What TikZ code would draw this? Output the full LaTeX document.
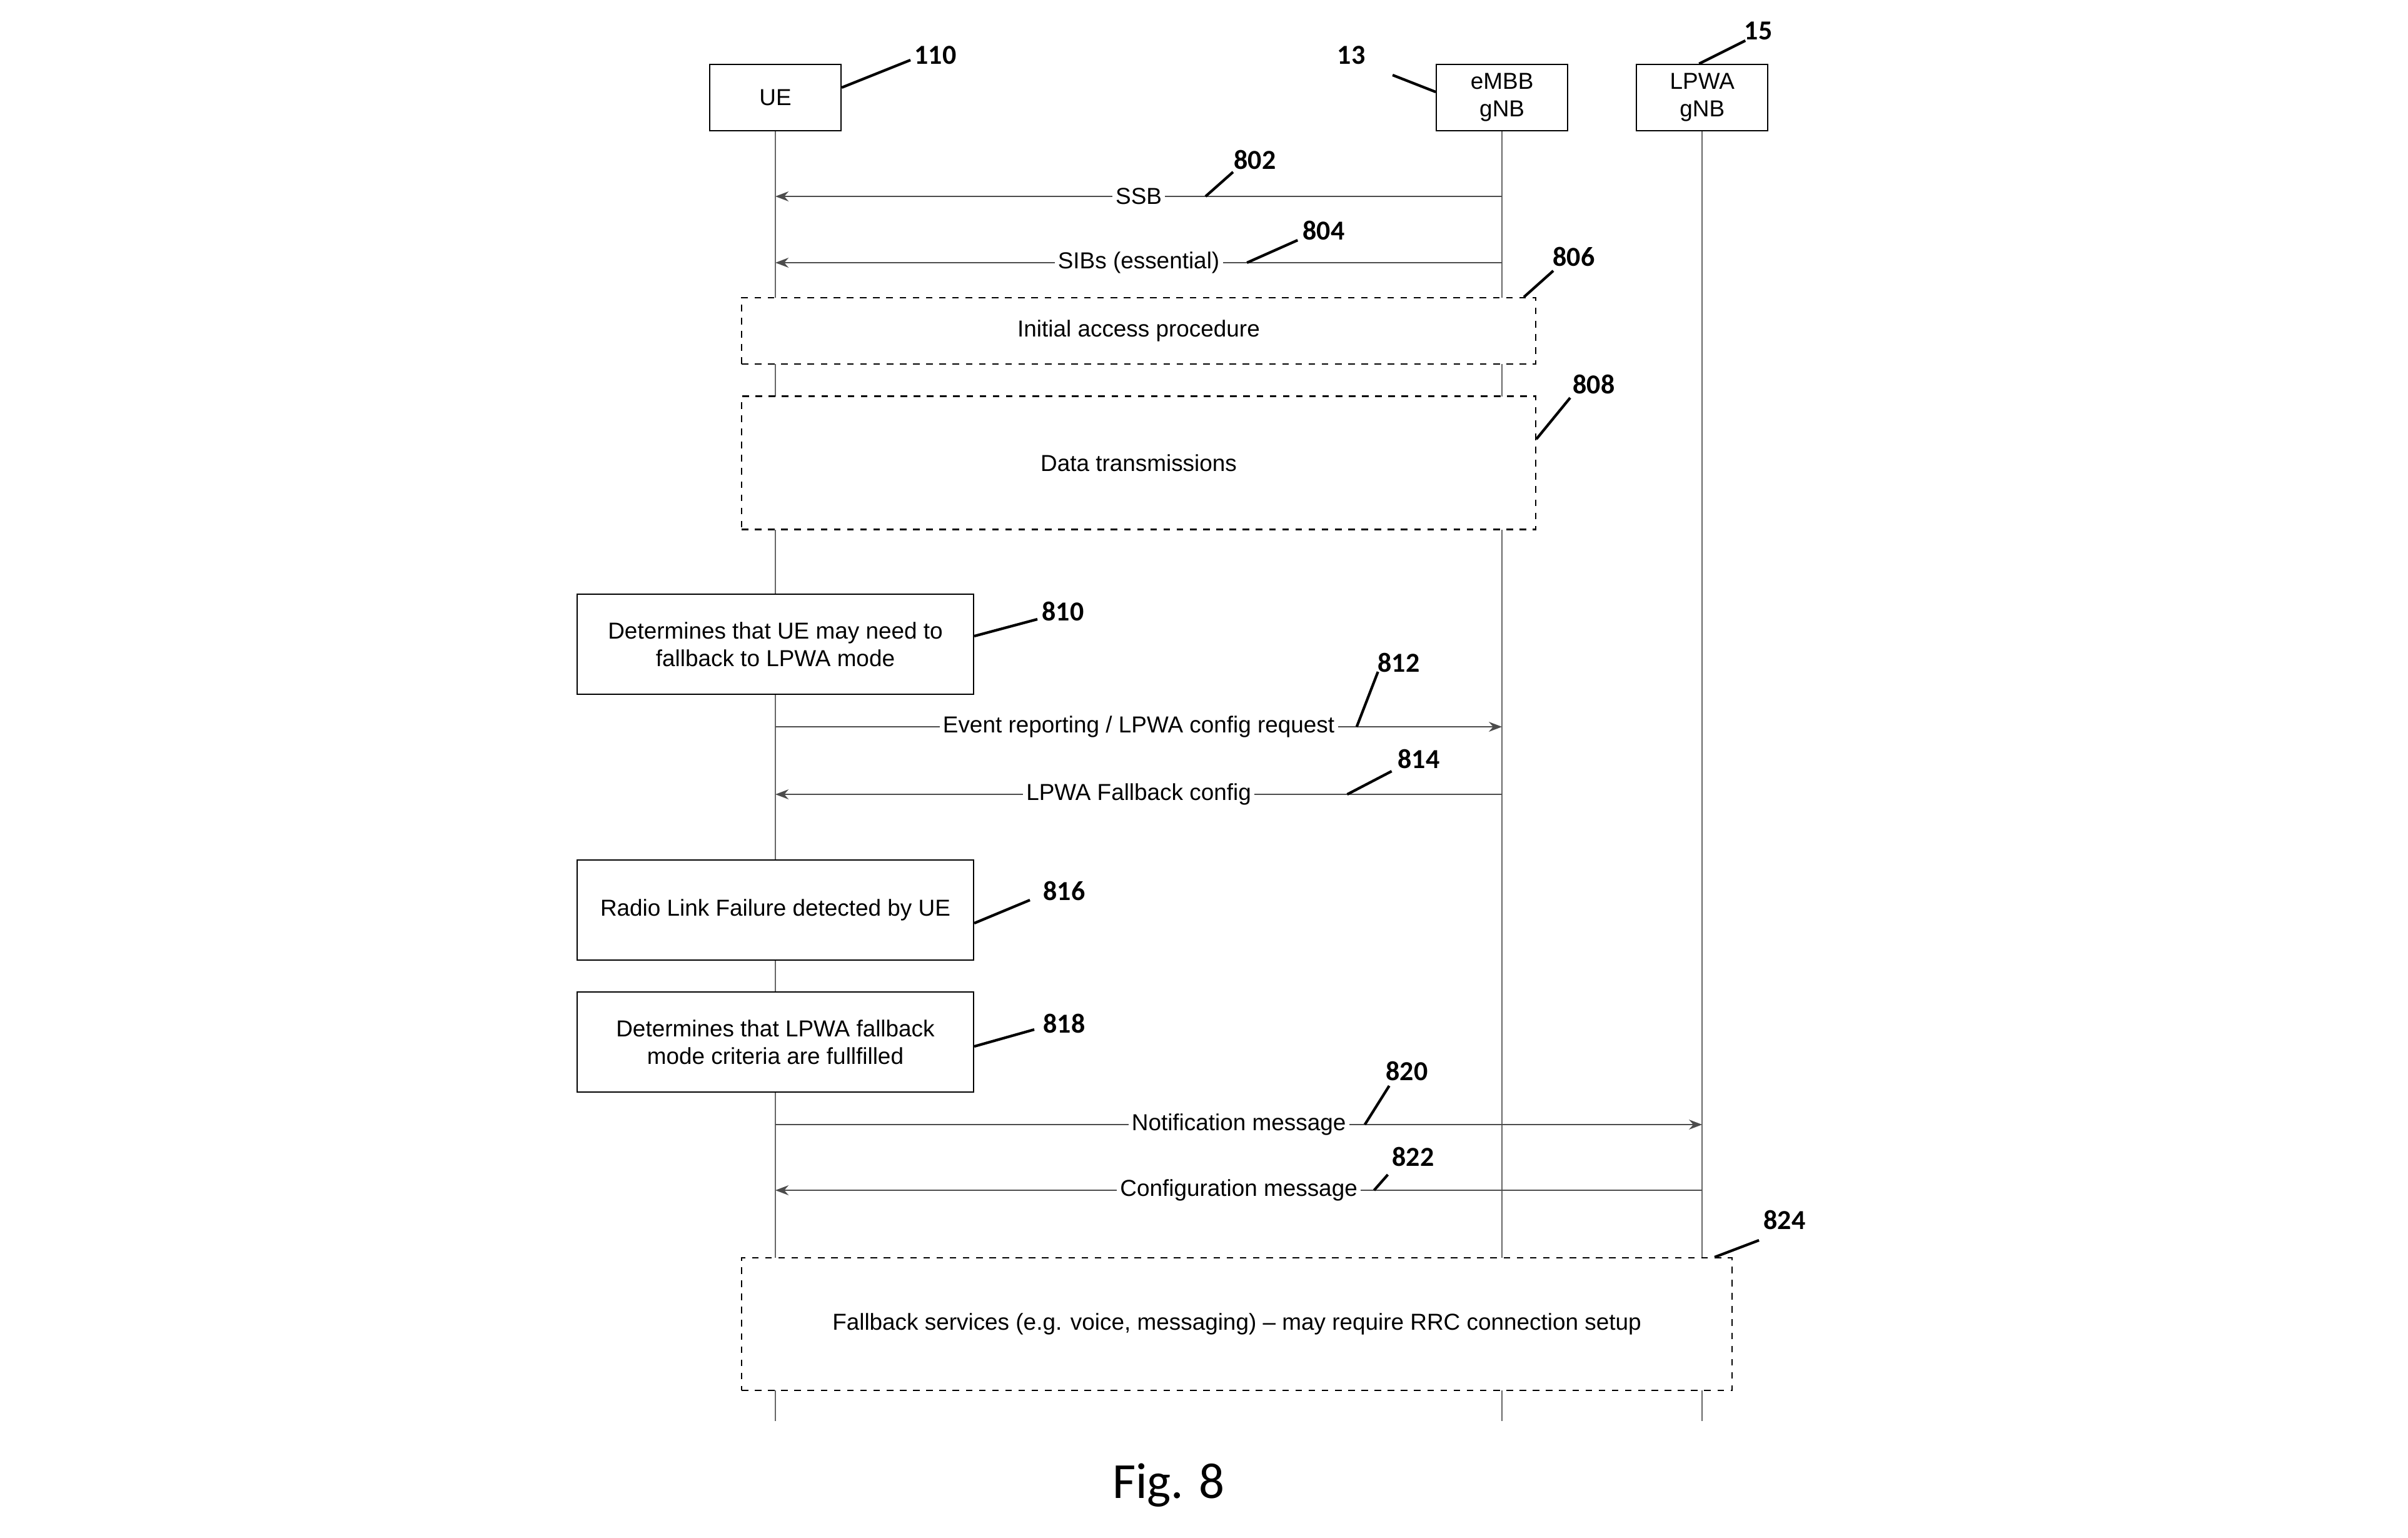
\documentclass[tikz,border=0pt]{standalone}
\usepackage{fontspec}
\setmainfont{Liberation Sans}
\newfontfamily\calibri{Carlito}
\usetikzlibrary{arrows.meta, positioning}

\begin{document}
\begin{tikzpicture}[
  entity/.style={rectangle, draw, fill=white, line width=0.6pt, minimum width=2.1cm, minimum height=1.06cm, align=center, font=\fontsize{10.5}{12.5}\selectfont},
  action/.style={rectangle, draw, fill=white, line width=0.6pt, minimum width=6.34cm, minimum height=1.6cm, align=center, font=\fontsize{10.5}{12.5}\selectfont},
  proc/.style={rectangle, draw, dashed, fill=white, line width=0.6pt, align=center, font=\fontsize{10.5}{12.5}\selectfont},
  lifeline/.style={draw=black!60, line width=0.6pt},
  msg/.style={draw=black!70, line width=0.7pt, -{Stealth[length=6pt, width=4.5pt]}},
  lbl/.style={fill=white, inner sep=1.5pt, font=\fontsize{10.5}{12.5}\selectfont},
  refnum/.style={font=\calibri\bfseries\fontsize{12.5}{14}\selectfont, inner sep=1pt},
  leader/.style={line width=1.2pt}
]
\useasboundingbox (0,0) rectangle (38.51,-24.58);

% participants
\node[entity] (ue) at (12.40,-1.56) {UE};
\node[entity, right=9.50cm of ue] (embb) {eMBB\\gNB};
\node[entity, right=1.08cm of embb] (lpwa) {LPWA\\gNB};

\coordinate (bottom) at (0,-22.72);
\foreach \p in {ue, embb, lpwa}
  \draw[lifeline] (\p.south) -- (\p |- bottom);

% messages
\coordinate (y802) at (0,-3.14);
\coordinate (y804) at (0,-4.20);
\coordinate (y812) at (0,-11.62);
\coordinate (y814) at (0,-12.70);
\coordinate (y820) at (0,-17.98);
\coordinate (y822) at (0,-19.03);

\draw[msg] (embb |- y802) -- node[lbl] {SSB} coordinate[pos=0.408] (s802) (ue |- y802);
\draw[msg] (embb |- y804) -- node[lbl] {SIBs (essential)} coordinate[pos=0.351] (s804) (ue |- y804);
\draw[msg] (ue |- y812) -- node[lbl] {Event reporting / LPWA config request} coordinate[pos=0.80] (s812) (embb |- y812);
\draw[msg] (embb |- y814) -- node[lbl] {LPWA Fallback config} coordinate[pos=0.213] (s814) (ue |- y814);
\draw[msg] (ue |- y820) -- node[lbl] {Notification message} coordinate[pos=0.636] (s820) (lpwa |- y820);
\draw[msg] (lpwa |- y822) -- node[lbl] {Configuration message} coordinate[pos=0.354] (s822) (ue |- y822);

% procedures and UE actions
\node[proc, minimum width=12.70cm, minimum height=1.06cm] (p806) at (18.21,-5.29) {Initial access procedure};
\node[proc, minimum width=12.70cm, minimum height=2.13cm] (p808) at (18.21,-7.40) {Data transmissions};
\node[action] (a810) at (12.40,-10.30) {Determines that UE may need to\\fallback to LPWA mode};
\node[action] (a816) at (12.40,-14.55) {Radio Link Failure detected by UE};
\node[action] (a818) at (12.40,-16.66) {Determines that LPWA fallback\\mode criteria are fullfilled};
\node[proc, minimum width=15.84cm, minimum height=2.12cm] (p824) at (19.78,-21.17) {Fallback services (e.g. voice, messaging) -- may require RRC connection setup};

% reference numerals
\draw[leader] ([yshift=0.16cm]ue.east) -- ++(1.10,0.44);
\node[refnum] (n110) at (14.96,-0.88) {110};
\draw[leader] ([yshift=0.09cm]embb.west) -- ++(-0.69,0.27);
\node[refnum] (n13) at (21.61,-0.88) {13};
\draw[leader] ([xshift=-0.05cm]lpwa.north) -- ++(0.74,0.37);
\node[refnum] (n15) at (28.12,-0.49) {15};
\draw[leader] (s802) -- ++(0.44,0.39);
\node[refnum] (n802) at (20.07,-2.55) {802};
\draw[leader] (s804) -- ++(0.81,0.36);
\node[refnum] (n804) at (21.17,-3.68) {804};
\draw[leader] ([xshift=-0.20cm]p806.north east) -- ++(0.47,0.42);
\node[refnum] (n806) at (25.17,-4.10) {806};
\draw[leader] ([yshift=0.38cm]p808.east) -- ++(0.54,0.66);
\node[refnum] (n808) at (25.49,-6.14) {808};
\draw[leader] ([yshift=0.13cm]a810.east) -- ++(1.01,0.27);
\node[refnum] (n810) at (17.00,-9.77) {810};
\draw[leader] (s812) -- ++(0.34,0.88);
\node[refnum] (n812) at (22.37,-10.59) {812};
\draw[leader] (s814) -- ++(0.71,0.37);
\node[refnum] (n814) at (22.69,-12.13) {814};
\draw[leader] ([yshift=-0.21cm]a816.east) -- ++(0.89,0.37);
\node[refnum] (n816) at (17.02,-14.24) {816};
\draw[leader] ([yshift=-0.07cm]a818.east) -- ++(0.96,0.27);
\node[refnum] (n818) at (17.02,-16.36) {818};
\draw[leader] (s820) -- ++(0.39,0.62);
\node[refnum] (n820) at (22.50,-17.12) {820};
\draw[leader] (s822) -- ++(0.22,0.25);
\node[refnum] (n822) at (22.60,-18.49) {822};
\draw[leader] ([xshift=-0.29cm]p824.north east) -- ++(0.71,0.27);
\node[refnum] (n824) at (28.54,-19.50) {824};

\node[font=\calibri\fontsize{23}{27}\selectfont] (fig) at (18.69,-23.75) {Fig. 8};
\end{tikzpicture}
\end{document}
